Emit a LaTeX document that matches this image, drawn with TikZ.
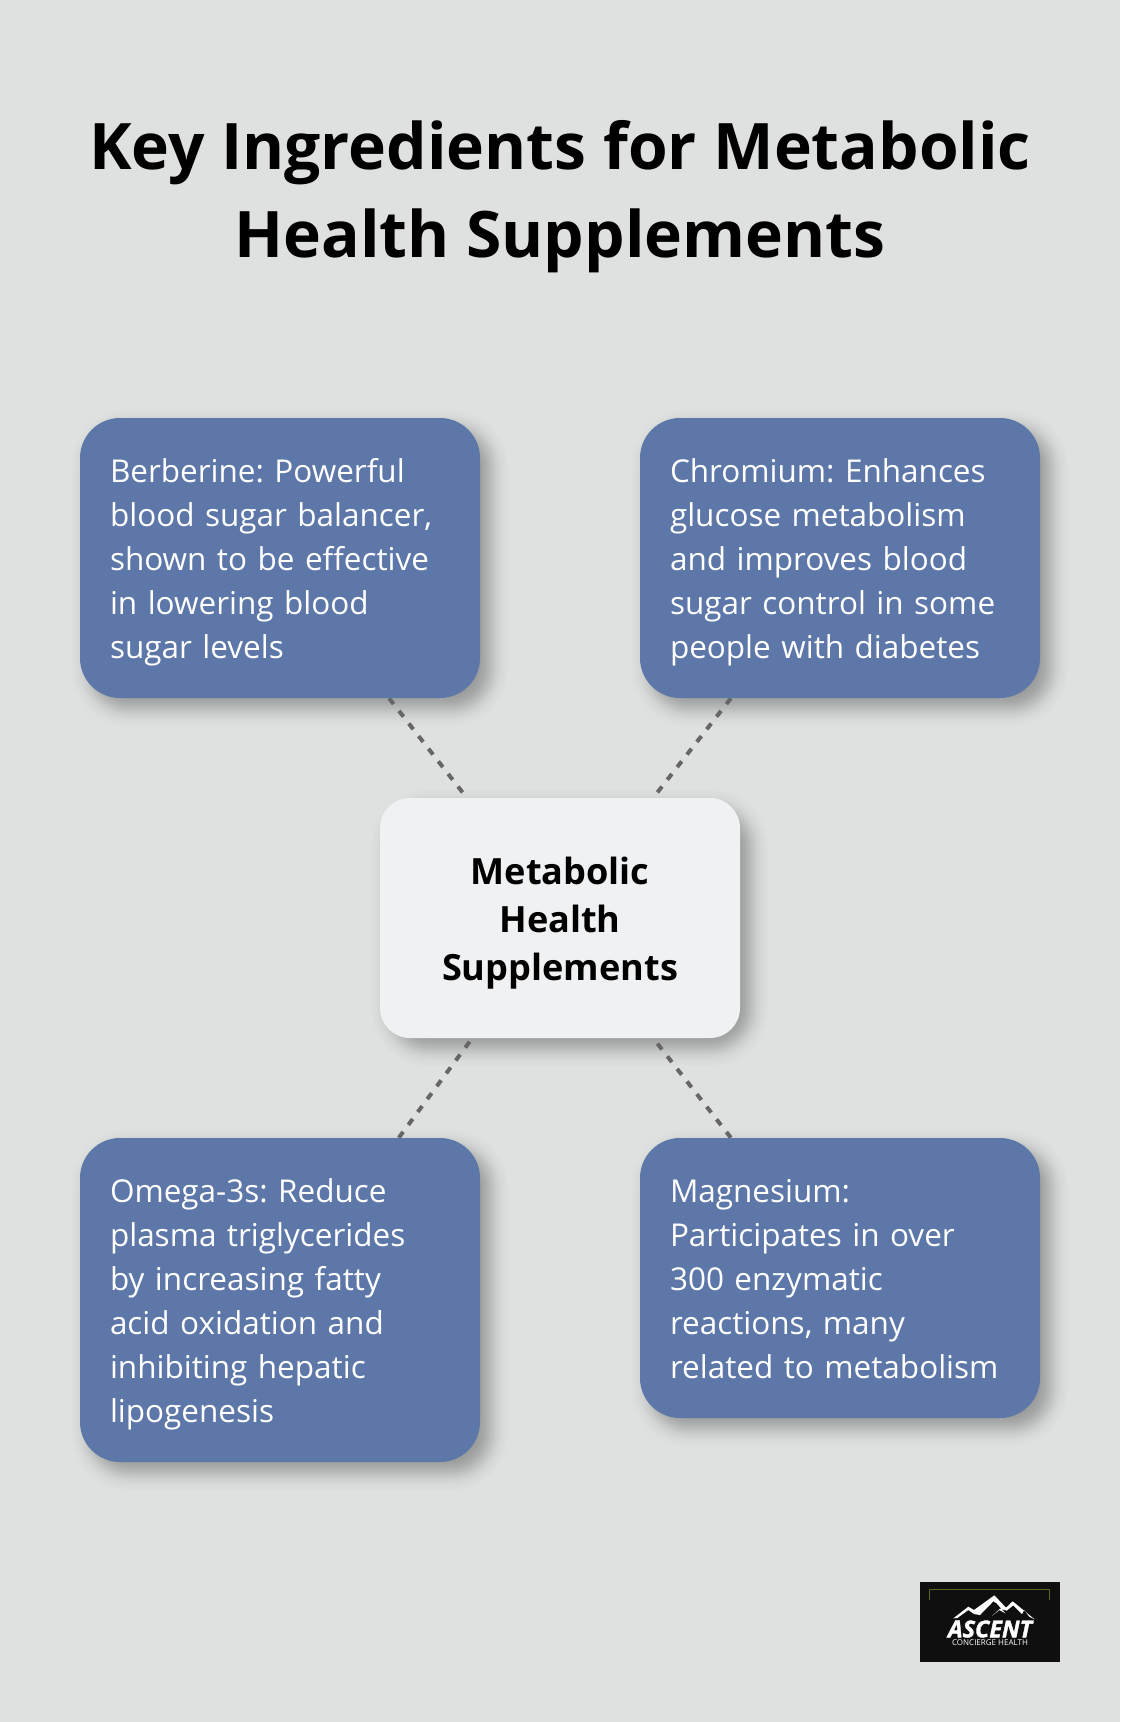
\documentclass[tikz,border=0pt]{standalone}
\usepackage{fontspec}
\setmainfont{Open Sans}
\frenchspacing
\usetikzlibrary{backgrounds}
\definecolor{pagebg}{HTML}{DFE1E0}
\definecolor{boxblue}{HTML}{5D77A8}
\definecolor{centerbox}{HTML}{EFF1F3}
\definecolor{linkgray}{HTML}{666666}
\definecolor{logoolive}{HTML}{5E6418}
\definecolor{logoblack}{HTML}{0F0F0F}
\newcommand{\softshadow}[1]{%
  \foreach \s [evaluate=\s as \a using {0.012*exp(-(\s*\s)/200)},
               evaluate=\s as \r using {max(8,40+\s)*0.75}] in {30,29,...,-28}{
    \fill[black,opacity=\a,rounded corners=\r pt]
      ([xshift={(10-\s)*0.75pt},yshift={-(10+\s)*0.75pt}]#1.south west)
      rectangle
      ([xshift={(10+\s)*0.75pt},yshift={(\s-10)*0.75pt}]#1.north east);
  }}
\newcommand{\bluetop}{\rule{0pt}{26pt}}
\newcommand{\bluebot}{\rule[-8pt]{0pt}{8pt}}
\newcommand{\hubtop}{\rule{0pt}{28pt}}
\newcommand{\hubbot}{\rule[-5.6pt]{0pt}{5.6pt}}
\tikzset{
  x=0.75pt,y=-0.75pt,
  bluebox/.style={fill=boxblue,text=white,rounded corners=30pt,minimum width=300pt,inner sep=0pt,
    align=left,text width=255pt,font=\fontsize{23.6}{33}\selectfont},
  hubbox/.style={fill=centerbox,text=black,rounded corners=22.5pt,minimum width=270pt,minimum height=180pt,
    inner sep=0pt,align=center,text width=240pt,font=\fontsize{27.1}{36}\selectfont\bfseries},
  titletext/.style={text=black,align=center,inner sep=0pt,font=\fontsize{48.1}{66}\selectfont\bfseries},
  linkline/.style={draw=linkgray,line width=3pt,dash pattern=on 5.5pt off 6.5pt},
}
\begin{document}
\begin{tikzpicture}
\useasboundingbox (0,0) rectangle (1120,1722);
\node[titletext] (title) at (560,197) {Key Ingredients for Metabolic\\Health Supplements};
\node[bluebox,minimum height=210pt] (berberine) at (280,558) {\bluetop Berberine: Powerful\\blood sugar balancer,\\shown to be effective\\in lowering blood\\sugar levels\bluebot};
\node[bluebox,minimum height=210pt] (chromium) at (840,558) {\bluetop Chromium: Enhances\\glucose metabolism\\and improves blood\\sugar control in some\\people with diabetes\bluebot};
\node[bluebox,minimum height=243pt] (omega) at (280,1300) {\bluetop Omega-3s: Reduce\\plasma triglycerides\\by increasing fatty\\acid oxidation and\\inhibiting hepatic\\lipogenesis\bluebot};
\node[bluebox,minimum height=210pt] (magnesium) at (840,1278) {\bluetop Magnesium:\\Participates in over\\300 enzymatic\\reactions, many\\related to metabolism\bluebot};
\node[hubbox] (hub) at (560,918) {\hubtop Metabolic\\Health\\Supplements\hubbot};
\begin{scope}[on background layer]
  \fill[pagebg] (0,0) rectangle (1120,1722);
  \softshadow{berberine}
  \softshadow{chromium}
  \softshadow{omega}
  \softshadow{magnesium}
  \softshadow{hub}
  \draw[linkline] (berberine) -- (hub);
  \draw[linkline] (chromium) -- (hub);
  \draw[linkline] (omega) -- (hub);
  \draw[linkline] (magnesium) -- (hub);
\end{scope}
% logo
\fill[logoblack] (920,1582) rectangle (1060,1662);
\draw[logoolive,line width=0.6pt] (929.5,1600) -- (929.5,1589.5) -- (1049.5,1589.5) -- (1049.5,1600);
\begin{scope}[shift={(900,1560)},x=0.25pt,y=-0.25pt]
  \fill[white] (160,175) -- (205,140) -- (222,150) -- (283,106) -- (318,143) -- (338,124) -- (404,178) -- (388,170) -- (372,150) -- (366,162) -- (340,136) -- (320,152) -- (300,146) -- (276,168) -- (298,150) -- (316,160) -- (290,130) -- (280,124) -- (240,165) -- (222,162) -- (205,150) -- (172,174) -- cycle;
\end{scope}
\node[text=white,inner sep=0pt,font=\fontsize{17.5}{19}\selectfont\bfseries\itshape\addfontfeature{FakeBold=1.5}] (logoname) at (990,1629) {ASCENT};
\node[text=white,inner sep=0pt,font=\fontsize{6}{6}\selectfont] (logosub) at (990,1643) {CONCIERGE HEALTH};
\end{tikzpicture}
\end{document}
